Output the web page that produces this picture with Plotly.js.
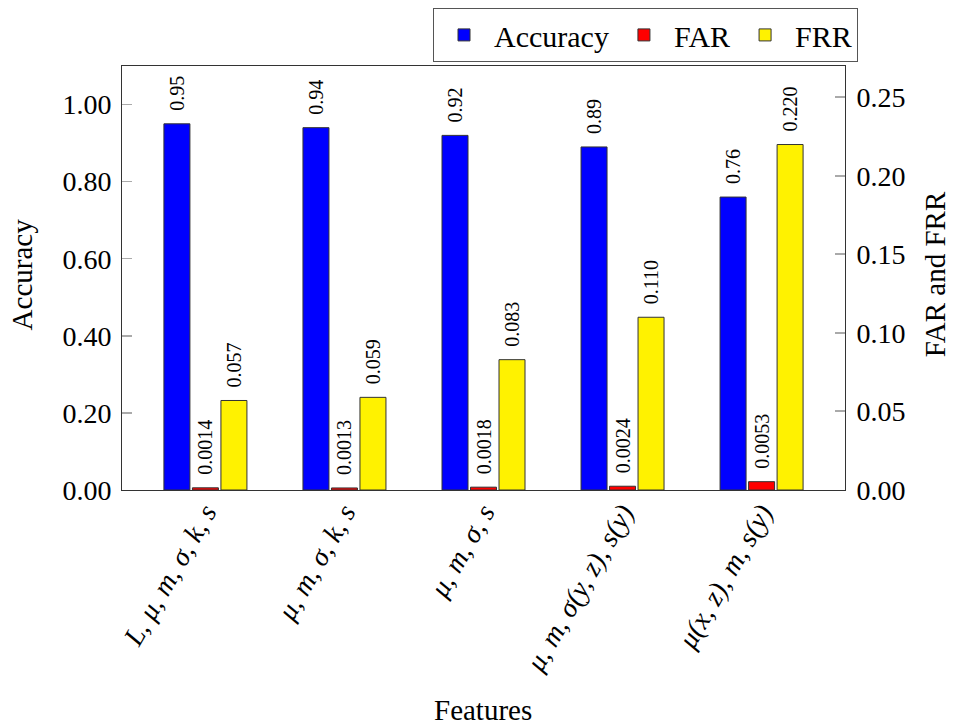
<!DOCTYPE html>
<html>
<head>
<meta charset="utf-8">
<script src="https://cdn.plot.ly/plotly-3.0.1.min.js"></script>
<style>html,body{margin:0;padding:0;background:#fff;}#chart{width:953px;height:728px;}</style>
</head>
<body>
<div id="chart"></div>
<script>
const categories = ['L, μ, m, σ, k, s', 'μ, m, σ, k, s', 'μ, m, σ, s', 'μ, m, σ(y, z), s(y)', 'μ(x, z), m, s(y)'];
const accuracy = [0.95, 0.94, 0.92, 0.89, 0.76];
const far = [0.0014, 0.0013, 0.0018, 0.0024, 0.0053];
const frr = [0.057, 0.059, 0.083, 0.110, 0.220];
const accTicks = [0, 0.2, 0.4, 0.6, 0.8, 1.0];
const rateTicks = [0, 0.05, 0.10, 0.15, 0.20, 0.25];

const serif = 'Liberation Serif';
const BW = 0.187;
const lineStyle = {color: '#333', width: 1};
const labelFont = {family: serif, size: 20, color: '#000'};

const traces = [
  {type: 'bar', name: 'Accuracy', x: categories, y: accuracy, yaxis: 'y',
   width: BW, offset: -0.2985,
   marker: {color: '#0000ff', line: lineStyle},
   texttemplate: '\u00a0\u00a0%{y:.2f}', textposition: 'outside', textangle: -90,
   constraintext: 'none', cliponaxis: false, textfont: labelFont, hoverinfo: 'skip'},
  {type: 'bar', name: 'FAR', x: categories, y: far, yaxis: 'y2',
   width: BW, offset: -0.0935,
   marker: {color: '#ff0000', line: lineStyle},
   texttemplate: '\u00a0\u00a0%{y:.4f}', textposition: 'outside', textangle: -90,
   constraintext: 'none', cliponaxis: false, textfont: labelFont, hoverinfo: 'skip'},
  {type: 'bar', name: 'FRR', x: categories, y: frr, yaxis: 'y2',
   width: BW, offset: 0.1115,
   marker: {color: '#fff200', line: lineStyle},
   texttemplate: '\u00a0\u00a0%{y:.3f}', textposition: 'outside', textangle: -90,
   constraintext: 'none', cliponaxis: false, textfont: labelFont, hoverinfo: 'skip'}
];

const layout = {
  width: 953, height: 728,
  margin: {l: 122, r: 108, t: 66, b: 238, autoexpand: false},
  paper_bgcolor: '#fff', plot_bgcolor: '#fff',
  barmode: 'overlay',
  showlegend: true,
  font: {family: serif, color: '#000', size: 28},
  xaxis: {
    type: 'category', range: [-0.6, 4.6],
    showline: true, mirror: true, linecolor: '#333', linewidth: 1,
    ticks: '', showgrid: false, zeroline: false,
    tickangle: -60, ticklabelstandoff: -6,
    tickfont: {family: serif, size: 28, style: 'italic', color: '#000'},
    automargin: false
  },
  yaxis: {
    range: [0, 1.1], tickvals: accTicks, tickformat: '.2f',
    showline: true, linecolor: '#333', linewidth: 1,
    ticks: 'inside', ticklen: 10, tickwidth: 1.5, tickcolor: '#aaa',
    ticklabelstandoff: 4,
    showgrid: false, zeroline: false,
    tickfont: {family: serif, size: 28, color: '#000'},
    automargin: false
  },
  yaxis2: {
    overlaying: 'y', side: 'right',
    range: [0, 0.27], tickvals: rateTicks, tickformat: '.2f',
    showline: true, linecolor: '#333', linewidth: 1,
    ticks: 'inside', ticklen: 10, tickwidth: 2, tickcolor: '#aaa',
    ticklabelstandoff: 5,
    showgrid: false, zeroline: false,
    tickfont: {family: serif, size: 28, color: '#000'},
    automargin: false
  },
  legend: {
    orientation: 'h', x: 1.018, xanchor: 'right', y: 1.137, yanchor: 'top',
    bgcolor: '#fff', bordercolor: '#555', borderwidth: 1,
    font: {family: serif, size: 30, color: '#000'},
    itemwidth: 50, traceorder: 'normal'
  },
  annotations: [
    {text: 'Accuracy', xref: 'paper', yref: 'paper', x: -0.138, y: 0.509,
     xanchor: 'center', yanchor: 'middle', textangle: -90, showarrow: false,
     font: {family: serif, size: 29, color: '#000'}},
    {text: 'FAR and FRR', xref: 'paper', yref: 'paper', x: 1.1245, y: 0.509,
     xanchor: 'center', yanchor: 'middle', textangle: -90, showarrow: false,
     font: {family: serif, size: 29, color: '#000'}},
    {text: 'Features', xref: 'paper', yref: 'paper', x: 0.4993, y: -0.519,
     xanchor: 'center', yanchor: 'middle', showarrow: false,
     font: {family: serif, size: 29, color: '#000'}}
  ]
};

Plotly.newPlot('chart', traces, layout, {displayModeBar: false, staticPlot: true});
</script>
</body>
</html>
